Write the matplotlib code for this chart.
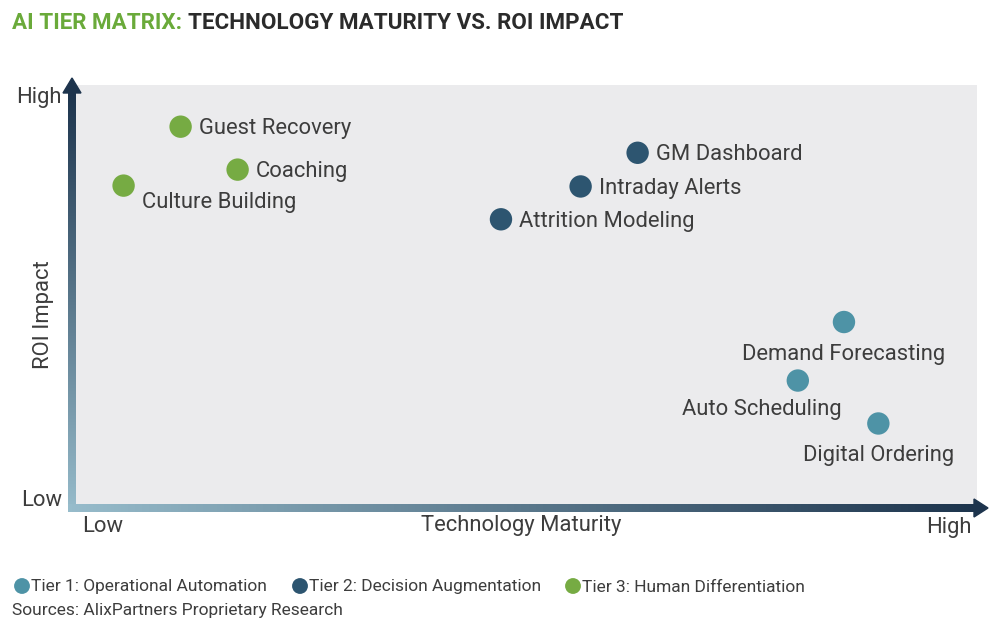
import numpy as np
import matplotlib.pyplot as plt
from matplotlib.colors import LinearSegmentedColormap
from matplotlib.patches import Polygon

plt.rcParams["font.family"] = ["Roboto", "DejaVu Sans"]

# --- data (0..10 scale on both axes) ---
NAMES = ["Guest Recovery", "Coaching", "Culture Building",
         "GM Dashboard", "Intraday Alerts", "Attrition Modeling",
         "Demand Forecasting", "Auto Scheduling", "Digital Ordering"]
MATURITY = [1.20, 1.83, 0.57, 6.25, 5.62, 4.74, 8.53, 8.02, 8.91]
ROI = [9.01, 7.99, 7.61, 8.39, 7.59, 6.81, 4.37, 2.98, 1.96]
TIER = [3, 3, 3, 2, 2, 2, 1, 1, 1]

TIER_LABELS = {1: "Tier 1: Operational Automation",
               2: "Tier 2: Decision Augmentation",
               3: "Tier 3: Human Differentiation"}
TIER_COLOR = {1: "#4e93a6", 2: "#2d5570", 3: "#76ab43"}

# label placement: (dx, dy in points, ha, va)
LABEL_POS = {
    "Guest Recovery": (13, -1.5, "left", "center"),
    "Coaching": (13, -1.5, "left", "center"),
    "Culture Building": (13, -12.5, "left", "center"),
    "GM Dashboard": (13, -1.5, "left", "center"),
    "Intraday Alerts": (13, -1.5, "left", "center"),
    "Attrition Modeling": (13, -1.5, "left", "center"),
    "Demand Forecasting": (0, -23.5, "center", "center"),
    "Auto Scheduling": (-26, -21, "center", "center"),
    "Digital Ordering": (0, -23, "center", "center"),
}

TEXT_COLOR = "#3d3d3d"
LBL = 15.8
W, H = 1000, 629


def fx(px):
    return px / W


def fy(py):
    return 1 - py / H


fig = plt.figure(figsize=(10, 6.29), dpi=100)

# main plotting area (grey box)
ax = fig.add_axes([fx(72), fy(506), fx(977) - fx(72), fy(85) - fy(506)])
ax.set_facecolor("#ebebed")
ax.set_xlim(0, 10)
ax.set_ylim(0, 10)
for s in ax.spines.values():
    s.set_visible(False)
ax.set_xticks([])
ax.set_yticks([])

for name, x, y, t in zip(NAMES, MATURITY, ROI, TIER):
    ax.scatter(x, y, s=260, color=TIER_COLOR[t], edgecolors="none", zorder=3)
    dx, dy, ha, va = LABEL_POS[name]
    ax.annotate(name, (x, y), xytext=(dx, dy), textcoords="offset points",
                ha=ha, va=va, fontsize=LBL, color=TEXT_COLOR)

# overlay in pixel coordinates for gradient axis arrows
deco = fig.add_axes([0, 0, 1, 1], zorder=5)
deco.axis("off")
deco.patch.set_alpha(0)

cmap = LinearSegmentedColormap.from_list("arr", ["#97bccb", "#1d344d"])
grad = np.linspace(0, 1, 256)

# vertical arrow: light at bottom, dark at top
deco.imshow(grad[:, None], extent=[68, 76, 512, 92], origin="lower",
            cmap=cmap, aspect="auto", vmin=0, vmax=1)
deco.add_patch(Polygon([[63, 93], [81, 93], [72, 78]], color="#1d344d"))
# horizontal arrow: light at left, dark at right
deco.imshow(grad[None, :], extent=[68, 975, 512, 504], cmap=cmap,
            aspect="auto", vmin=0, vmax=1)
deco.add_patch(Polygon([[974, 499], [974, 517], [988, 508]], color="#1d344d"))
deco.set_xlim(0, W)
deco.set_ylim(H, 0)

# title
t1 = fig.text(fx(12), fy(23), "AI TIER MATRIX: ", fontsize=16.1, fontweight="bold",
              color="#6aaa3a", ha="left", va="center")
fig.canvas.draw()
bb = t1.get_window_extent()
fig.text(bb.x1 / W, fy(23), "TECHNOLOGY MATURITY VS. ROI IMPACT", fontsize=16.1,
         fontweight="bold", color="#2b2b2b", ha="left", va="center")

# axis end labels
fig.text(fx(62), fy(97), "High", fontsize=LBL, color=TEXT_COLOR,
         ha="right", va="center")
fig.text(fx(62), fy(501), "Low", fontsize=LBL, color=TEXT_COLOR,
         ha="right", va="center")
fig.text(fx(44), fy(315), "ROI Impact", fontsize=LBL, color=TEXT_COLOR,
         ha="center", va="center", rotation=90)
fig.text(fx(82), fy(526), "Low", fontsize=LBL, color=TEXT_COLOR,
         ha="left", va="center")
fig.text(fx(521), fy(526), "Technology Maturity", fontsize=LBL,
         color=TEXT_COLOR, ha="center", va="center")
fig.text(fx(972), fy(528), "High", fontsize=LBL, color=TEXT_COLOR,
         ha="right", va="center")

# legend row
leg_x = {1: 22, 2: 300, 3: 573}
for t in (1, 2, 3):
    deco.scatter(leg_x[t], 586, s=130, color=TIER_COLOR[t], edgecolors="none")
    fig.text(fx(leg_x[t] + 9), fy(587), TIER_LABELS[t], fontsize=12.5,
             color=TEXT_COLOR, ha="left", va="center")

fig.text(fx(12), fy(611), "Sources: AlixPartners Proprietary Research", fontsize=12.5,
         color=TEXT_COLOR, ha="left", va="center")

fig.savefig("out.png", dpi=100)
